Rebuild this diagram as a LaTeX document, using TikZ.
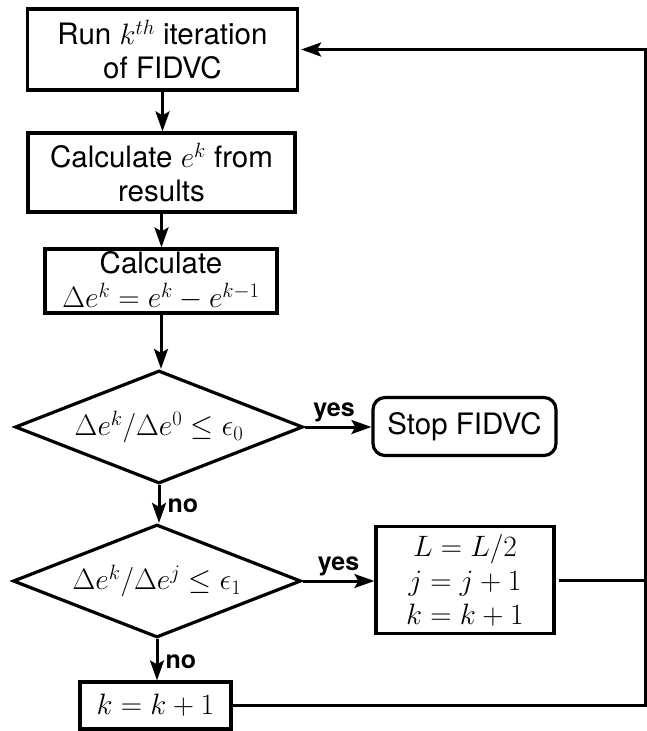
\documentclass[tikz,border=0pt]{standalone}
\usepackage{fix-cm}
\usepackage{fontspec}
\setmainfont{TeX Gyre Heros}
\usetikzlibrary{shapes.geometric,arrows.meta}

\tikzset{
  box/.style={draw, line width=3.2pt, align=center, inner sep=0pt},
  test/.style={diamond, draw, line width=3.2pt, inner sep=0pt, aspect=2.55,
               minimum width=288pt, minimum height=113pt},
  link/.style={line width=3pt},
  flow/.style={link, -{Stealth[length=20pt,width=14pt,inset=4pt]}},
  lbl/.style={font=\fontsize{25}{29}\selectfont\bfseries, inner sep=4pt},
}

\begin{document}
\begin{tikzpicture}[x=1pt, y=-1pt, font=\fontsize{29.5}{34}\selectfont]
  \useasboundingbox (0,0) rectangle (647,731);

  % main column of steps
  \node[box, minimum width=270pt, minimum height=81pt] (run) at (162.5,49.5)
    {Run $k^{th}$ iteration\\of FIDVC};
  \node[box, minimum width=267pt, minimum height=79pt] (calc) at (161.5,172.5)
    {Calculate $e^k$ from\\results};
  \node[box, minimum width=232pt, minimum height=64pt] (delta) at (161,281)
    {Calculate\\$\Delta e^k = e^k - e^{k-1}$};
  \node[test] (d1) at (159,427) {$\Delta e^k/\Delta e^0 \le \epsilon_0$};
  \node[test] (d2) at (157,581) {$\Delta e^k/\Delta e^j \le \epsilon_1$};
  \node[box, minimum width=151pt, minimum height=47pt] (inc) at (155.5,705.5)
    {$k=k+1$};

  % right-hand branch
  \node[box, rounded corners=12pt, minimum width=183pt, minimum height=58pt] (stop)
    at (464.5,426.5) {Stop FIDVC};
  \node[box, minimum width=178pt, minimum height=107pt] (upd) at (465,580)
    {$L = L/2$\\$j = j+1$\\$k = k+1$};

  % return rail
  \coordinate (rail) at (645,0);

  % downward flow
  \draw[flow] (run.south) -- (run.south |- calc.north);
  \draw[flow] (calc.south) -- (calc.south |- delta.north);
  \draw[flow] (delta.south) -- (delta.south |- d1.north);
  \draw[flow] (d1.south) -- (d1.south |- d2.north)
    node[lbl, midway, right, xshift=3pt, yshift=-2pt] {no};
  \draw[flow] (d2.south) -- (d2.south |- inc.north)
    node[lbl, midway, right, xshift=3pt, yshift=-2pt] {no};

  % yes branches
  \draw[flow] (d1.east) -- (d1.east -| stop.west)
    node[lbl, midway, above, xshift=-4pt] {yes};
  \draw[flow] (d2.east) -- (d2.east -| upd.west)
    node[lbl, midway, above] {yes};

  % loop back to the next iteration
  \draw[link, shorten <=3pt] (upd.east) -- (upd.east -| rail);
  \draw[flow, shorten >=2pt] (inc.east) -- (inc.east -| rail)
    -- (rail |- run.east) -- (run.east);
\end{tikzpicture}
\end{document}
